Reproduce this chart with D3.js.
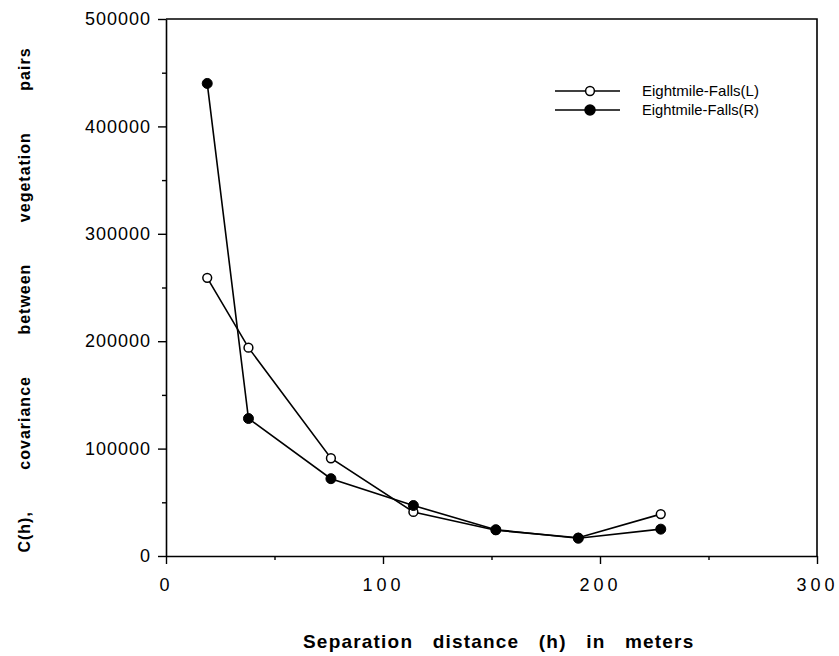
<!DOCTYPE html>
<html>
<head>
<meta charset="utf-8">
<script src="https://cdn.jsdelivr.net/npm/d3@7"></script>
<style>
  html, body { margin: 0; padding: 0; background: #fff; }
  svg { display: block; font-family: "Liberation Sans", Arial, Helvetica, sans-serif; }
</style>
</head>
<body>
<svg id="chart" width="839" height="656"></svg>
<script>
// Separation distances (m) at which covariance was computed
const distances = [19, 38, 76, 114, 152, 190, 228];
// Covariance between vegetation pairs, left bank
const falls_L = [259000, 194000, 91000, 41000, 24000, 17000, 39000];
// Covariance between vegetation pairs, right bank
const falls_R = [440000, 128000, 72000, 47000, 24500, 16500, 25000];

const seriesNames = ["Eightmile-Falls(L)", "Eightmile-Falls(R)"];
const xTicks = [0, 100, 200, 300];
const xMinorTicks = [50, 150, 250];
const yTicks = [0, 100000, 200000, 300000, 400000, 500000];
const yMinorTicks = [50000, 150000, 250000, 350000, 450000];

const svg = d3.select("#chart");
const plotLeft = 166, plotRight = 817, plotTop = 19, plotBottom = 556;

const x = d3.scaleLinear().domain([0, 300]).range([plotLeft, plotRight]);
const y = d3.scaleLinear().domain([0, 500000]).range([plotBottom, plotTop]);

// Frame: top and right edges
svg.append("path")
  .attr("d", `M${plotLeft},${plotTop}H${plotRight}V${plotBottom}`)
  .attr("fill", "none").attr("stroke", "#000").attr("stroke-width", 1.6);

// X axis
const xAxis = svg.append("g").attr("transform", `translate(0,${plotBottom})`)
  .call(d3.axisBottom(x).tickValues(xTicks).tickSize(8).tickSizeOuter(0).tickPadding(14).tickFormat(d3.format("d")));
svg.append("g").attr("transform", `translate(0,${plotBottom})`)
  .call(d3.axisBottom(x).tickValues(xMinorTicks).tickSize(4).tickFormat(""))
  .call(g => g.select(".domain").remove());

// Y axis
const yAxis = svg.append("g").attr("transform", `translate(${plotLeft},0)`)
  .call(d3.axisLeft(y).tickValues(yTicks).tickSize(8).tickSizeOuter(0).tickPadding(7).tickFormat(d3.format("d")));
svg.append("g").attr("transform", `translate(${plotLeft},0)`)
  .call(d3.axisLeft(y).tickValues(yMinorTicks).tickSize(4).tickFormat(""))
  .call(g => g.select(".domain").remove());

svg.selectAll(".domain").attr("stroke", "#000").attr("stroke-width", 1.6);
svg.selectAll(".tick line").attr("stroke", "#000").attr("stroke-width", 1.4);
xAxis.selectAll("text").attr("font-size", 18).attr("letter-spacing", 4)
  .attr("fill", "#000").attr("font-family", "Liberation Sans, Arial, sans-serif");
yAxis.selectAll("text").attr("font-size", 18).attr("letter-spacing", 1)
  .attr("fill", "#000").attr("font-family", "Liberation Sans, Arial, sans-serif");

// Series lines and markers
const line = d3.line().x(d => x(d[0])).y(d => y(d[1]));
const ptsL = distances.map((d, i) => [d, falls_L[i]]);
const ptsR = distances.map((d, i) => [d, falls_R[i]]);

svg.append("path").datum(ptsL).attr("d", line)
  .attr("fill", "none").attr("stroke", "#000").attr("stroke-width", 1.6);
svg.append("path").datum(ptsR).attr("d", line)
  .attr("fill", "none").attr("stroke", "#000").attr("stroke-width", 1.6);

svg.append("g").selectAll("circle").data(ptsL).join("circle")
  .attr("cx", d => x(d[0])).attr("cy", d => y(d[1])).attr("r", 4.4)
  .attr("fill", "#fff").attr("stroke", "#000").attr("stroke-width", 1.5);
svg.append("g").selectAll("circle").data(ptsR).join("circle")
  .attr("cx", d => x(d[0])).attr("cy", d => y(d[1])).attr("r", 5)
  .attr("fill", "#000").attr("stroke", "#000").attr("stroke-width", 1);

// Legend
const legend = svg.append("g");
seriesNames.forEach((name, i) => {
  const ly = 91 + i * 19;
  legend.append("line").attr("x1", 555).attr("x2", 620).attr("y1", ly).attr("y2", ly)
    .attr("stroke", "#000").attr("stroke-width", 1.5);
  legend.append("circle").attr("cx", 590).attr("cy", ly).attr("r", i === 0 ? 4.4 : 5)
    .attr("fill", i === 0 ? "#fff" : "#000").attr("stroke", "#000").attr("stroke-width", 1.5);
  legend.append("text").attr("x", 642).attr("y", ly + 5)
    .attr("font-size", 15).attr("textLength", 117).attr("lengthAdjust", "spacingAndGlyphs")
    .text(name);
});

// Axis titles
svg.append("text")
  .attr("x", 303).attr("y", 648)
  .attr("font-weight", "bold").attr("font-size", 19)
  .attr("letter-spacing", 1.2).attr("word-spacing", 13)
  .text("Separation distance (h) in meters");

svg.append("text")
  .attr("transform", "translate(30,300) rotate(-90)")
  .attr("text-anchor", "middle").attr("font-weight", "bold").attr("font-size", 16)
  .attr("letter-spacing", 1).attr("word-spacing", 36)
  .text("C(h), covariance between vegetation pairs");
</script>
</body>
</html>
